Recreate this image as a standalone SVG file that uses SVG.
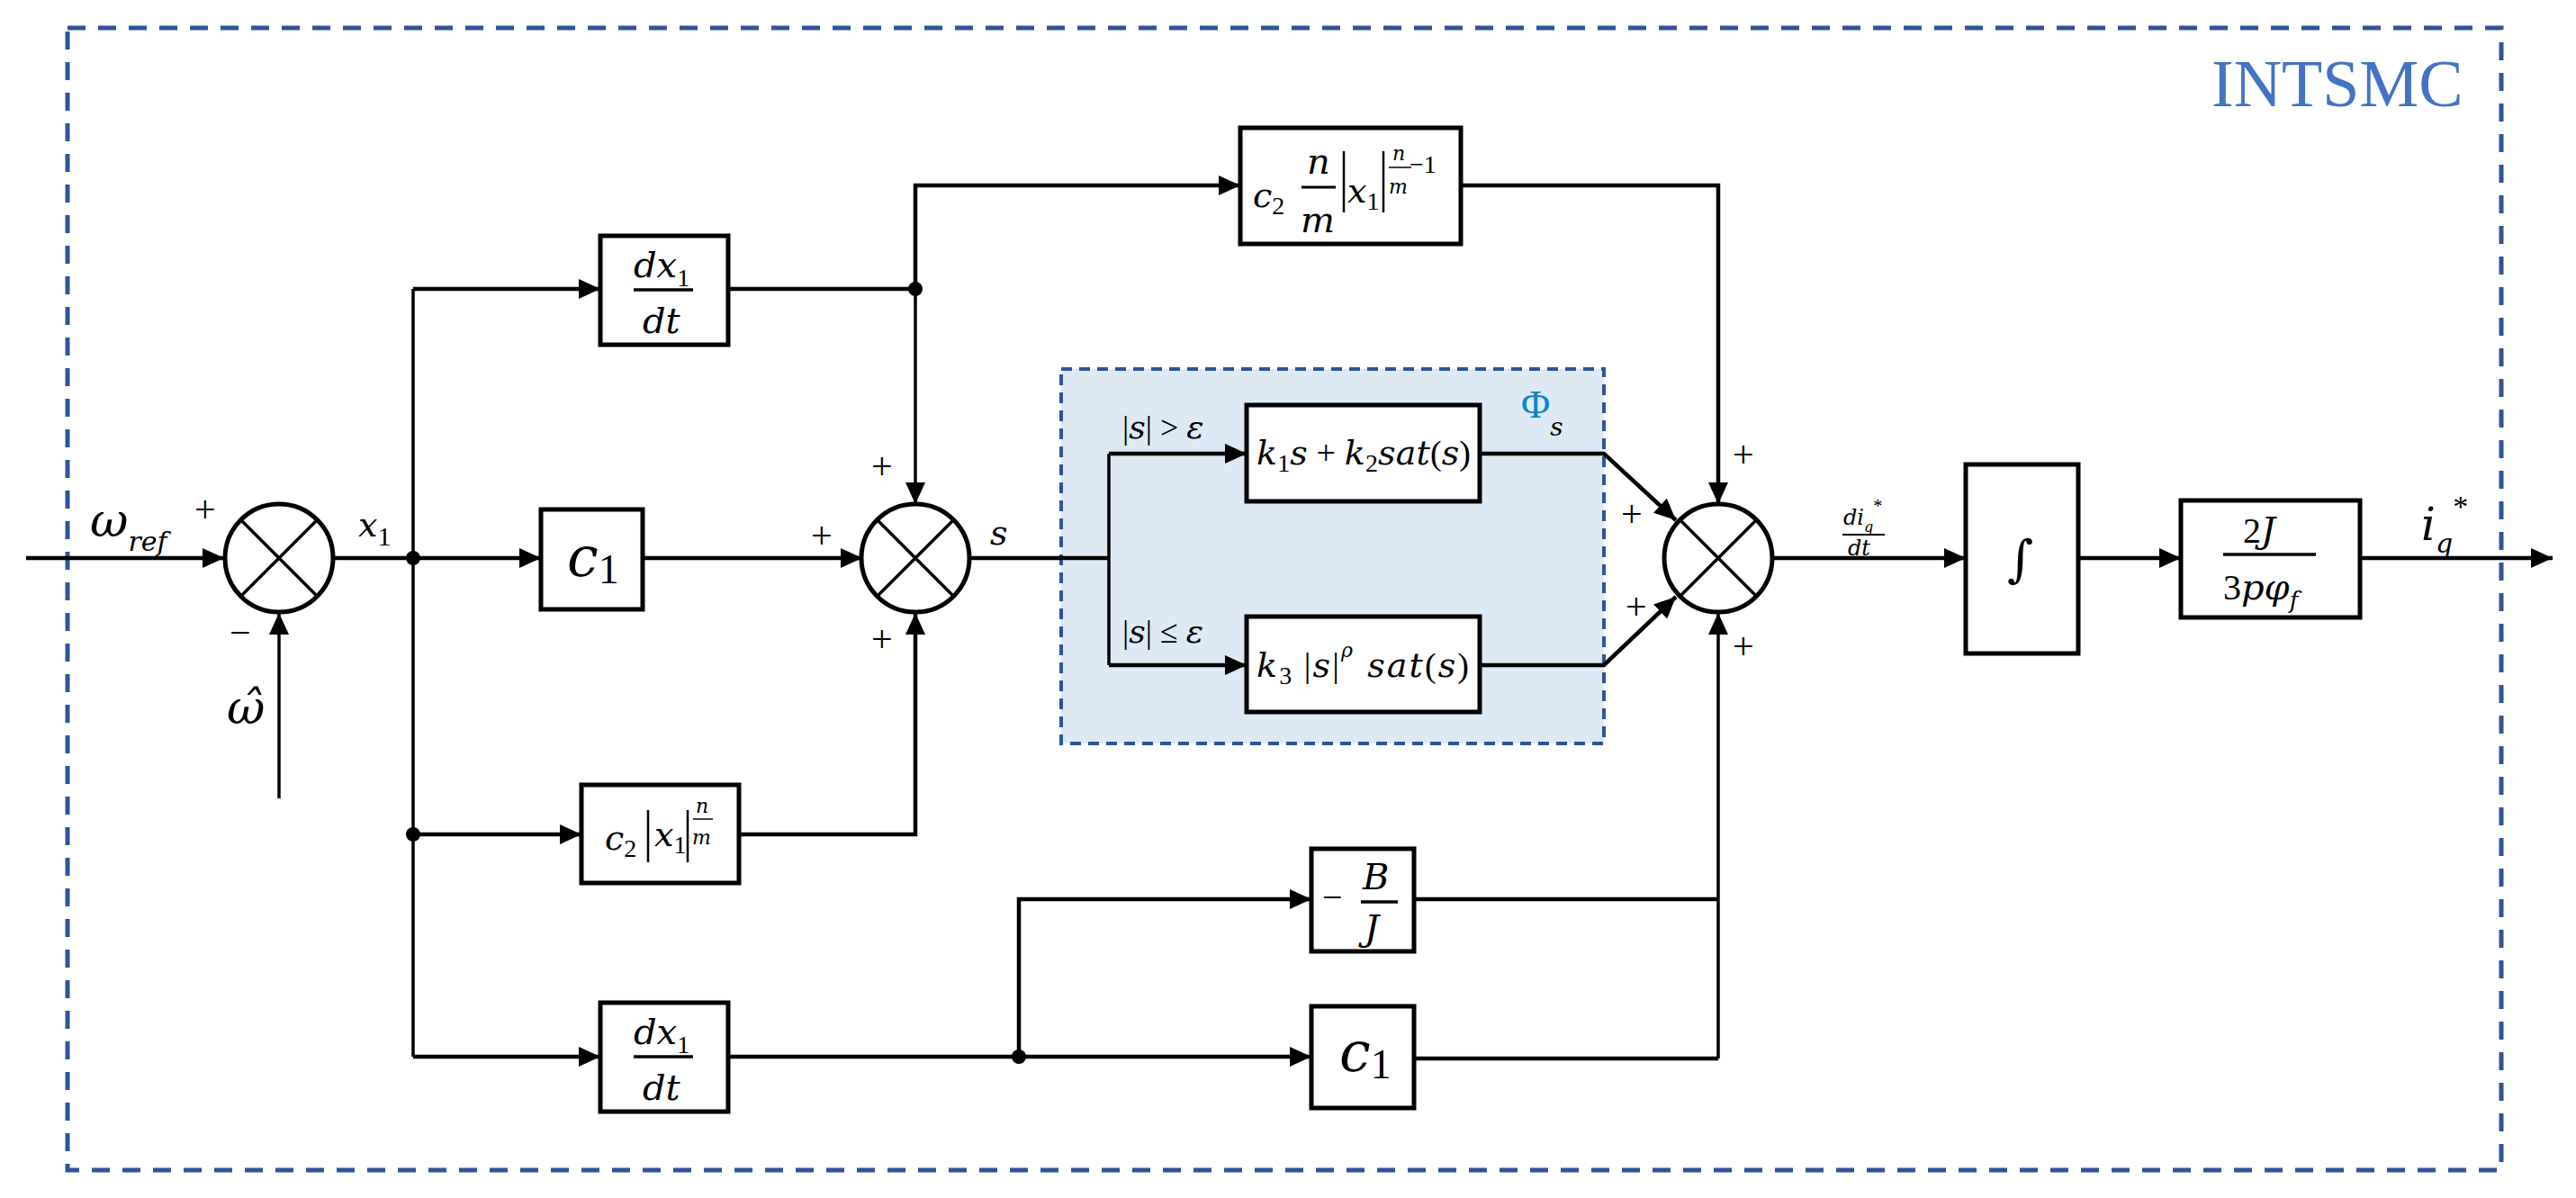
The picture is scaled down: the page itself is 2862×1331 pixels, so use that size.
<svg xmlns="http://www.w3.org/2000/svg" width="2862" height="1331" viewBox="0 0 2862 1331">
<defs>
<marker id="ar" markerUnits="userSpaceOnUse" markerWidth="24" markerHeight="22" refX="24" refY="11" orient="auto"><path d="M0,0 L24,11 L0,22 z" fill="#000"/></marker>
<style>
.w{fill:none;stroke:#000;stroke-width:4.5}
.v{fill:none;stroke:#000;stroke-width:3.5}
.b{fill:#fff;stroke:#000;stroke-width:5}
text{font-family:Liberation Serif,Times New Roman,serif}
.m{font-family:DejaVu Serif,serif;font-style:italic;fill:#000}
.r{font-family:Liberation Serif,serif;font-style:normal;fill:#000}
.p{font-size:42px;fill:#000}
</style>
</defs>
<rect x="75" y="31" width="2704" height="1269" fill="none" stroke="#2F5597" stroke-width="5" stroke-dasharray="20,14"/>
<text x="2457" y="118" font-size="74" fill="#4472C4">INTSMC</text>
<g id="phi">
<rect x="1179" y="410" width="603" height="416" fill="#DDEAF6" stroke="#2F5597" stroke-width="4" stroke-dasharray="12,8"/>
<text x="1690" y="464" font-size="44" fill="#0A86C8">Φ<tspan class="m" font-size="28" dy="20" fill="#0A86C8">s</tspan></text>
</g>
<g id="connectors">
<line class="w" x1="29" y1="620" x2="249" y2="620" marker-end="url(#ar)"/>
<line class="v" x1="310" y1="887" x2="310" y2="681" marker-end="url(#ar)"/>
<line class="w" x1="370" y1="620" x2="601" y2="620" marker-end="url(#ar)"/>
<polyline class="v" points="459,1174 459,321"/>
<line class="w" x1="459" y1="321" x2="667" y2="321" marker-end="url(#ar)"/>
<line class="w" x1="459" y1="927" x2="646" y2="927" marker-end="url(#ar)"/>
<line class="w" x1="459" y1="1174" x2="667" y2="1174" marker-end="url(#ar)"/>
<line class="w" x1="714" y1="620" x2="958" y2="620" marker-end="url(#ar)"/>
<line class="w" x1="809" y1="321" x2="1017" y2="321"/>
<polyline class="v" points="1017,321 1017,560" marker-end="url(#ar)"/>
<polyline class="w" points="1017,321 1017,206 1378,206" marker-end="url(#ar)"/>
<polyline class="w" points="821,927 1017,927 1017,681" marker-end="url(#ar)"/>
<line class="w" x1="1077" y1="620" x2="1232" y2="620"/>
<polyline class="v" points="1232,504 1232,739"/>
<line class="w" x1="1232" y1="504" x2="1385" y2="504" marker-end="url(#ar)"/>
<line class="w" x1="1232" y1="739" x2="1385" y2="739" marker-end="url(#ar)"/>
<polyline class="w" points="1644,504 1782,504 1862,578" marker-end="url(#ar)"/>
<polyline class="w" points="1644,739 1782,739 1862,663" marker-end="url(#ar)"/>
<polyline class="w" points="1623,206 1909,206 1909,560" marker-end="url(#ar)"/>
<line class="w" x1="1969" y1="620" x2="2184" y2="620" marker-end="url(#ar)"/>
<line class="w" x1="2309" y1="620" x2="2423" y2="620" marker-end="url(#ar)"/>
<line class="w" x1="2622" y1="620" x2="2836" y2="620" marker-end="url(#ar)"/>
<line class="w" x1="809" y1="1174" x2="1457" y2="1174" marker-end="url(#ar)"/>
<polyline class="w" points="1132,1174 1132,999 1457,999" marker-end="url(#ar)"/>
<polyline class="w" points="1571,999 1909,999"/>
<polyline class="w" points="1571,1176 1909,1176"/>
<line class="v" x1="1909" y1="1176" x2="1909" y2="681" marker-end="url(#ar)"/>
<circle cx="459" cy="620" r="8"/>
<circle cx="1017" cy="321" r="8"/>
<circle cx="459" cy="927" r="8"/>
<circle cx="1132" cy="1174" r="8"/>
</g>
<g id="sum1"><ellipse cx="310" cy="620" rx="60" ry="60" class="b"/><path class="v" d="M268,578 L352,662 M352,578 L268,662" stroke-width="4"/></g>
<g id="sum2"><ellipse cx="1017" cy="620" rx="60" ry="60" class="b"/><path class="v" d="M975,578 L1059,662 M1059,578 L975,662" stroke-width="4"/></g>
<g id="sum3"><ellipse cx="1909" cy="620" rx="60" ry="60" class="b"/><path class="v" d="M1867,578 L1951,662 M1951,578 L1867,662" stroke-width="4"/></g>
<g id="labels">
<text class="m" x="100" y="596" font-size="52">ω<tspan font-size="30" dy="16">ref</tspan></text>
<text class="p" x="216" y="580">+</text>
<text class="p" x="255" y="717">−</text>
<text class="m" x="252" y="804" font-size="52">ω̂</text>
<text class="m" x="398" y="596" font-size="38">x<tspan class="r" font-size="30" dy="10">1</tspan></text>
<text class="p" x="968" y="532">+</text>
<text class="p" x="901" y="609">+</text>
<text class="m" x="1100" y="605" font-size="38">s</text>
<text class="p" x="968" y="724">+</text>
<text class="p" x="1925" y="519">+</text>
<text class="p" x="1801" y="585">+</text>
<text class="p" x="1806" y="688">+</text>
<text class="p" x="1925" y="732">+</text>
<text class="m" x="1247" y="487" font-size="36"><tspan class="r">|</tspan>s<tspan class="r">| &gt; </tspan>ε</text>
<text class="m" x="1247" y="714" font-size="36"><tspan class="r">|</tspan>s<tspan class="r">| ≤ </tspan>ε</text>
<text class="m" x="2048" y="583" font-size="24">di<tspan font-size="16" dy="8">q</tspan><tspan class="r" font-size="20" dy="-22">*</tspan></text>
<line x1="2047" y1="594" x2="2094" y2="594" stroke="#000" stroke-width="2"/>
<text class="m" x="2053" y="617" font-size="24">dt</text>
<text class="m" x="2690" y="600" font-size="50">i<tspan font-size="30" dy="14">q</tspan><tspan class="r" font-size="34" dy="-40">*</tspan></text>
</g>
<g id="b_dx1"><rect x="667" y="262" width="142" height="121" class="b"/><text class="m" x="704" y="308" font-size="40">dx<tspan class="r" font-size="28" dy="10">1</tspan></text><line x1="704" y1="322" x2="770" y2="322" stroke="#000" stroke-width="3.5"/><text class="m" x="714" y="370" font-size="40">dt</text></g>
<g id="b_c1"><rect x="601" y="566" width="113" height="111" class="b"/><text class="m" x="630" y="640" font-size="62">c<tspan class="r" font-size="46" dy="8">1</tspan></text></g>
<g id="b_c2n"><rect x="1378" y="142" width="245" height="129" class="b"/>
<text class="m" x="1392" y="230" font-size="38">c<tspan class="r" font-size="28" dy="8">2</tspan></text>
<text class="m" x="1452" y="193" font-size="40">n</text><line x1="1446" y1="208" x2="1484" y2="208" stroke="#000" stroke-width="3"/><text class="m" x="1445" y="258" font-size="40">m</text>
<line x1="1493" y1="168" x2="1493" y2="236" stroke="#000" stroke-width="2.5"/><text class="m" x="1497" y="225" font-size="38">x<tspan class="r" font-size="28" dy="8">1</tspan></text><line x1="1537" y1="168" x2="1537" y2="236" stroke="#000" stroke-width="2.5"/>
<text class="m" x="1547" y="178" font-size="22">n</text><line x1="1543" y1="186" x2="1568" y2="186" stroke="#000" stroke-width="1.5"/><text class="m" x="1543" y="215" font-size="22">m</text><text class="r" x="1566" y="192" font-size="28">−1</text></g>
<g id="b_c2"><rect x="646" y="872" width="175" height="109" class="b"/>
<text class="m" x="672" y="944" font-size="38">c<tspan class="r" font-size="28" dy="8">2</tspan></text>
<line x1="720" y1="900" x2="720" y2="958" stroke="#000" stroke-width="2.5"/><text class="m" x="727" y="940" font-size="38">x<tspan class="r" font-size="28" dy="8">1</tspan></text><line x1="764" y1="900" x2="764" y2="958" stroke="#000" stroke-width="2.5"/>
<text class="m" x="773" y="903" font-size="22">n</text><line x1="770" y1="910" x2="792" y2="910" stroke="#000" stroke-width="1.5"/><text class="m" x="769" y="938" font-size="22">m</text></g>
<g id="b_k1"><rect x="1385" y="450" width="259" height="107" class="b"/><text class="m" x="1396" y="516" font-size="38" textLength="238">k<tspan class="r" font-size="28" dy="8">1</tspan><tspan dy="-8">s</tspan><tspan class="r"> + </tspan>k<tspan class="r" font-size="28" dy="8">2</tspan><tspan dy="-8">sat</tspan><tspan class="r">(</tspan>s<tspan class="r">)</tspan></text></g>
<g id="b_k3"><rect x="1385" y="685" width="259" height="106" class="b"/><text class="m" x="1396" y="752" font-size="38" textLength="236">k<tspan class="r" font-size="28" dy="8">3</tspan><tspan class="r" dy="-8"> |</tspan>s<tspan class="r">|</tspan><tspan font-size="22" dy="-22">ρ</tspan><tspan dy="22"> sat</tspan><tspan class="r">(</tspan>s<tspan class="r">)</tspan></text></g>
<g id="b_int"><rect x="2184" y="516" width="125" height="210" class="b"/><text class="m" x="2230" y="640" font-size="56">∫</text></g>
<g id="b_gain"><rect x="2423" y="556" width="199" height="130" class="b"/><text class="m" x="2492" y="603" font-size="40"><tspan class="r">2</tspan>J</text><line x1="2470" y1="616" x2="2573" y2="616" stroke="#000" stroke-width="3.5"/><text class="m" x="2470" y="666" font-size="40"><tspan class="r">3</tspan>pφ<tspan font-size="26" dy="10">f</tspan></text></g>
<g id="b_BJ"><rect x="1457" y="943" width="114" height="114" class="b"/><text class="r" x="1469" y="1010" font-size="40">−</text><text class="m" x="1514" y="988" font-size="40">B</text><line x1="1512" y1="1002" x2="1553" y2="1002" stroke="#000" stroke-width="3.5"/><text class="m" x="1516" y="1045" font-size="40">J</text></g>
<g id="b_c1b"><rect x="1457" y="1118" width="114" height="113" class="b"/><text class="m" x="1488" y="1190" font-size="62">c<tspan class="r" font-size="46" dy="8">1</tspan></text></g>
<g id="b_dx1b"><rect x="667" y="1114" width="142" height="121" class="b"/><text class="m" x="704" y="1160" font-size="40">dx<tspan class="r" font-size="28" dy="10">1</tspan></text><line x1="704" y1="1174" x2="770" y2="1174" stroke="#000" stroke-width="3.5"/><text class="m" x="714" y="1222" font-size="40">dt</text></g>
</svg>
